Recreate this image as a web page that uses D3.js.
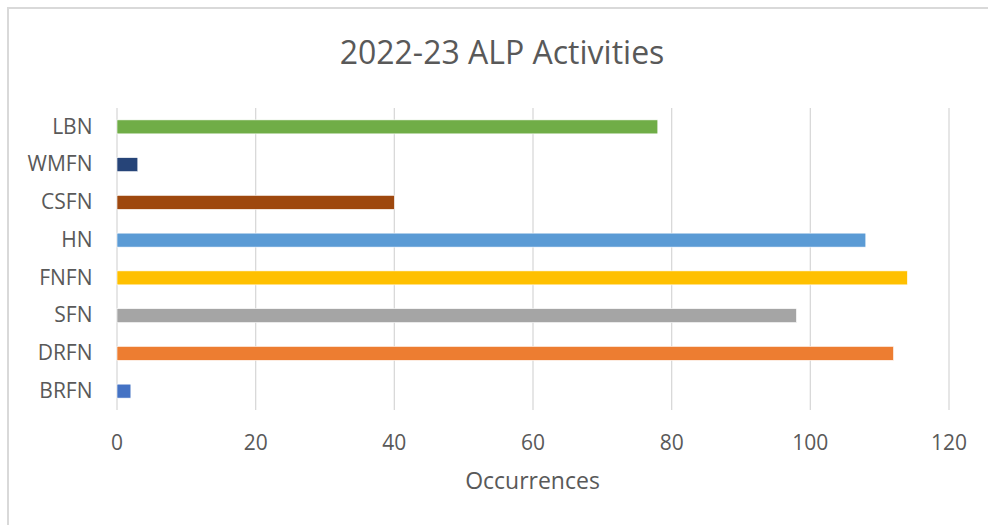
<!DOCTYPE html>
<html>
<head>
<meta charset="utf-8">
<script src="https://cdn.jsdelivr.net/npm/d3@7"></script>
<style>
  html, body { margin: 0; padding: 0; background: #fff; }
  svg text { font-family: "Open Sans", "Noto Sans", sans-serif; fill: #595959; }
</style>
</head>
<body>
<div id="viz"></div>
<script>
// categories listed top to bottom, as in the picture
const categories = ['LBN', 'WMFN', 'CSFN', 'HN', 'FNFN', 'SFN', 'DRFN', 'BRFN'];
const occurrences = [78, 3, 40, 108, 114, 98, 112, 2];
const barColors = ['#70AD47', '#264478', '#9E480E', '#5B9BD5', '#FFC000', '#A5A5A5', '#ED7D31', '#4472C4'];
const xTicks = [0, 20, 40, 60, 80, 100, 120];

const data = categories.map((c, i) => ({ cat: c, value: occurrences[i], color: barColors[i] }));

const W = 988, H = 525;
const plot = { left: 116.5, right: 948.5, top: 108, bottom: 410 };

const svg = d3.select('#viz')
  .append('svg')
    .attr('width', W)
    .attr('height', H);

// chart frame
svg.append('rect')
  .attr('x', 8).attr('y', 8)
  .attr('width', 992).attr('height', 530)
  .attr('fill', '#fff')
  .attr('stroke', '#d9d9d9')
  .attr('stroke-width', 2);

const x = d3.scaleLinear().domain([0, 120]).range([plot.left, plot.right]);
const y = d3.scaleBand().domain(categories).range([plot.top, plot.bottom])
  .paddingInner(0.63).paddingOuter(0.315);

// gridlines
const grid = svg.append('g')
  .attr('transform', `translate(0,${plot.bottom})`)
  .call(d3.axisBottom(x).tickValues(xTicks).tickSize(-(plot.bottom - plot.top)).tickFormat(''));
grid.select('.domain').remove();
grid.selectAll('line').attr('stroke', '#d9d9d9').attr('stroke-width', 1.3);

// bars
svg.selectAll('rect.bar').data(data).join('rect')
  .attr('class', 'bar')
  .attr('x', x(0) + 0.5)
  .attr('y', d => y(d.cat))
  .attr('width', d => x(d.value) - x(0))
  .attr('height', y.bandwidth())
  .attr('fill', d => d.color)
  .attr('stroke', '#fff')
  .attr('stroke-width', 0.6);

// x tick labels
const xAxis = svg.append('g')
  .attr('transform', `translate(0,${plot.bottom})`)
  .call(d3.axisBottom(x).tickValues(xTicks).tickSize(0).tickPadding(25));
xAxis.select('.domain').remove();
xAxis.selectAll('text')
  .attr('font-size', '21px')
  .style('font-family', '"Open Sans", sans-serif')
  .attr('fill', '#595959');

// category labels
const yAxis = svg.append('g')
  .attr('transform', `translate(${plot.left},0)`)
  .call(d3.axisLeft(y).tickSize(0).tickPadding(24));
yAxis.select('.domain').remove();
yAxis.selectAll('text')
  .attr('font-size', '21px')
  .style('font-family', '"Open Sans", sans-serif')
  .attr('fill', '#595959');

// title
svg.append('text')
  .attr('x', 502).attr('y', 64)
  .attr('text-anchor', 'middle')
  .attr('font-size', '32px')
  .text('2022-23 ALP Activities');

// axis title
svg.append('text')
  .attr('x', (plot.left + plot.right) / 2).attr('y', 489)
  .attr('text-anchor', 'middle')
  .attr('font-size', '23px')
  .text('Occurrences');
</script>
</body>
</html>
